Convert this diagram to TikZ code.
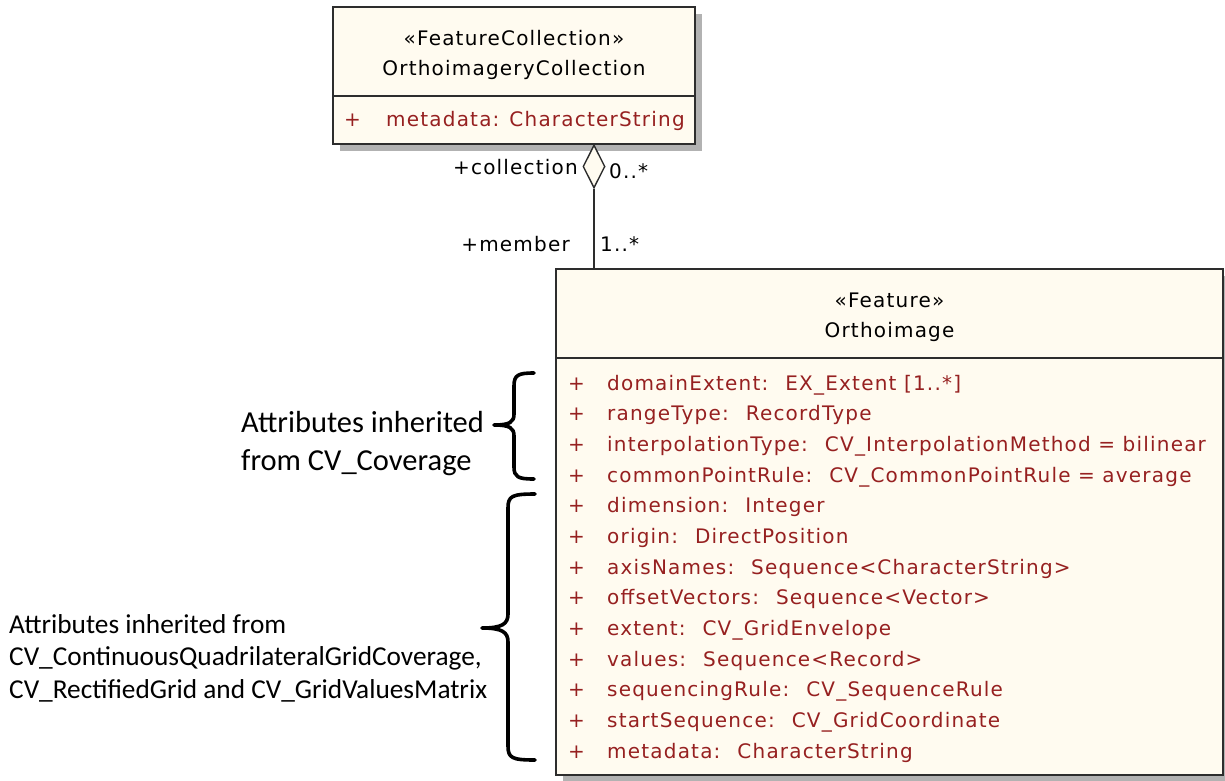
\documentclass[tikz,border=0pt]{standalone}
\usepackage{fontspec}
\usetikzlibrary{shapes.geometric,shadows}
\newfontfamily\umlfont{DejaVu Sans}[LetterSpace=6]
\newfontfamily\notefont{Carlito}
\definecolor{classfill}{RGB}{255,251,240}
\definecolor{attrred}{RGB}{150,32,32}
\definecolor{edgegray}{RGB}{45,45,45}
\newcommand{\gap}{\hspace{17pt}}

\begin{document}
\begin{tikzpicture}[x=1pt,y=-1pt,
  classbox/.style={draw=edgegray, line width=1.8pt, fill=classfill, inner sep=0pt,
    drop shadow={shadow xshift=7pt, shadow yshift=-7pt, fill=black!30, opacity=1}},
  uml/.style={font=\umlfont\fontsize{20}{20}\selectfont, inner sep=0pt},
  attr/.style={uml, text=attrred, anchor=base west},
  conn/.style={draw=edgegray, line width=1.6pt},
  brace/.style={draw=black, line width=3.6pt, line cap=round, line join=round},
  note/.style={inner sep=0pt, align=left, anchor=west}
]
\useasboundingbox (0,0) rectangle (1225,780);
\fill[white] (0,0) rectangle (1225,780);

% FeatureCollection class
\node[classbox, minimum width=362pt, minimum height=137pt] (coll) at (514,75.5) {};
\draw[conn, line width=1.6pt] (coll.west |- 0,96) -- (coll.east |- 0,96);
\node[uml, anchor=base] (collst) at (514,45) {«FeatureCollection»};
\node[uml, anchor=base] (collname) at (514,75) {OrthoimageryCollection};
\node[attr] (collp) at (344,126) {+};
\node[attr] (colla) at (386,126) {metadata:\hspace{10pt}CharacterString};

% Feature class
\node[classbox, minimum width=667pt, minimum height=506pt] (orth) at (889.5,522) {};
\draw[conn] (orth.west |- 0,358) -- (orth.east |- 0,358);
\node[uml, anchor=base] (orthst) at (889.5,307) {«Feature»};
\node[uml, anchor=base] (orthname) at (889.5,337) {Orthoimage};

\foreach \t [count=\i from 0] in {%
  {domainExtent:\gap EX\_Extent [1..*]},
  {rangeType:\gap RecordType},
  {interpolationType:\gap CV\_InterpolationMethod = bilinear},
  {commonPointRule:\gap CV\_CommonPointRule = average},
  {dimension:\gap Integer},
  {origin:\gap DirectPosition},
  {axisNames:\gap Sequence<CharacterString>},
  {offsetVectors:\gap Sequence<Vector>},
  {extent:\gap CV\_GridEnvelope},
  {values:\gap Sequence<Record>},
  {sequencingRule:\gap CV\_SequenceRule},
  {startSequence:\gap CV\_GridCoordinate},
  {metadata:\gap CharacterString}} {
  \node[attr] (p\i) at (568,390+\i*30.67) {+};
  \node[attr] (a\i) at (607,390+\i*30.67) {\t};
}

% aggregation between the two classes
\node[draw=edgegray, line width=1.4pt, fill=classfill, diamond, inner sep=0pt,
      minimum width=22pt, minimum height=43pt] (agg) at (594,166.5) {};
\draw[conn] (agg.south) -- (agg.south |- orth.north);
\node[uml, anchor=base east] (rcoll) at (578,174) {+collection};
\node[uml, anchor=base west] (mcoll) at (609,178) {0..*};
\node[uml, anchor=base east] (rmem) at (570,251) {+member};
\node[uml, anchor=base west] (mmem) at (600,251) {1..*};

% braces marking inherited attributes
\draw[brace] (534,373) .. controls (518,373) and (514,375) .. (514,386)
  -- (514,414) .. controls (514,422) and (510,425) .. (494,425)
  .. controls (510,425) and (514,428) .. (514,436)
  -- (514,467) .. controls (514,477) and (518,479) .. (534,479);
\draw[brace] (535,494) .. controls (512,494) and (508,496) .. (508,508)
  -- (508,614) .. controls (508,624) and (502,628) .. (482,628)
  .. controls (502,628) and (508,632) .. (508,642)
  -- (508,746) .. controls (508,758) and (512,760) .. (535,760);

\node[note, font=\notefont\fontsize{30.5}{38}\selectfont] (n1) at (241,444)
  {Attributes inherited\\from CV\_Coverage};
\node[note, font=\notefont\fontsize{27.3}{32.5}\selectfont] (n2) at (9,658)
  {Attributes inherited from\\CV\_ContinuousQuadrilateralGridCoverage,\\CV\_RectifiedGrid and CV\_GridValuesMatrix};
\end{tikzpicture}
\end{document}
